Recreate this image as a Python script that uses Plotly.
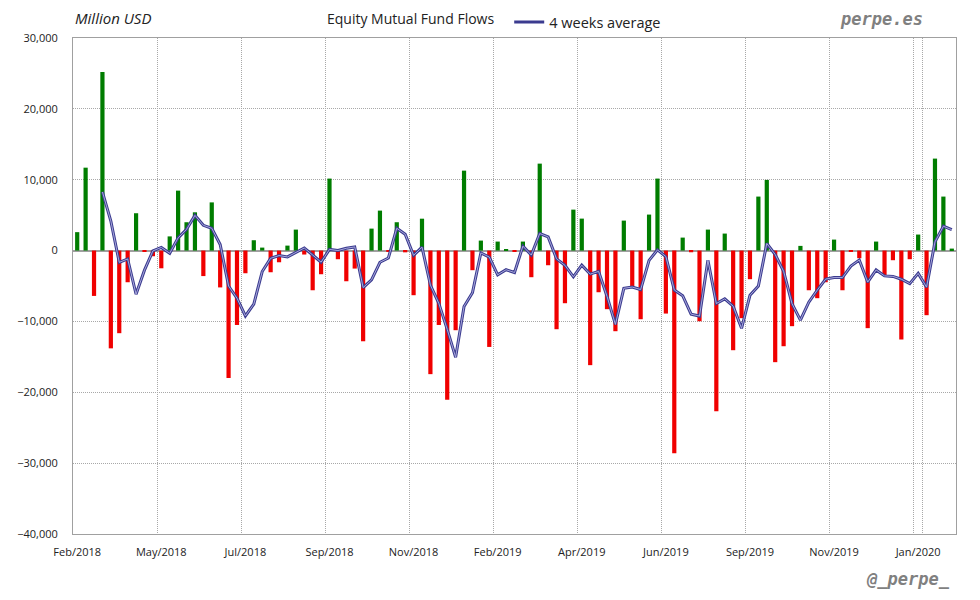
import pandas as pd
import plotly.graph_objects as go

# Weekly equity mutual fund flows (million USD)
flows = [
    2600, 11700, -6400, 25200, -13800, -11660, -4470, 5270, -200, -800,
    -2500, 2000, 8460, 4000, 5400, -3600, 6800, -5200, -18000, -10500,
    -3200, 1460, 420, -3060, -1650, 700, 2960, -560, -5600, -3340,
    10160, -1220, -4330, -2540, -12800, 3100, 5640, -150, 4000, -250,
    -6300, 4500, -17440, -10500, -21060, -11240, 11280, -2770, 1410, -13600,
    1270, 100, -150, 1270, -3760, 12270, -2070, -11100, -7430, 5780,
    4510, -16170, -5880, -8270, -11380, 4230, -5170, -9690, 5080, 10160,
    -8890, -28600, 1830, -240, -9970, 2960, -22660, 2400, -14060, -9540,
    -4040, 7620, 9970, -15750, -13500, -10670, 660, -5600, -6720, -4470,
    1550, -5600, -190, -1080, -10950, 1270, -3530, -1360, -12550, -1220,
    2260, -9120, 12980, 7620, 280,
]

week_start = "2018-02-21"
weeks = [d.strftime("%Y-%m-%d") for d in pd.date_range(week_start, periods=len(flows), freq="7D")]

tick_idx = [0, 10, 20, 30, 40, 50, 60, 70, 80, 90, 100]
tick_labels = ["Feb/2018", "May/2018", "Jul/2018", "Sep/2018", "Nov/2018", "Feb/2019",
               "Apr/2019", "Jun/2019", "Sep/2019", "Nov/2019", "Jan/2020"]

avg4 = pd.Series(flows).rolling(4).mean().tolist()

bar_colors = ["#007d00" if v >= 0 else "#f00000" for v in flows]

FONT = "Open Sans"
GRID_DASH = "1px,1px"

fig = go.Figure()
fig.add_trace(go.Bar(x=weeks, y=flows, marker=dict(color=bar_colors, line=dict(width=0)),
                     showlegend=False, hoverinfo="x+y"))
fig.add_trace(go.Scatter(x=weeks, y=avg4, mode="lines", name="4 weeks average",
                         line=dict(color="#3b3b8f", width=3), showlegend=True))
fig.add_trace(go.Scatter(x=weeks, y=avg4, mode="lines", showlegend=False,
                         line=dict(color="#a8a8dc", width=1), hoverinfo="skip"))

fig.update_layout(
    width=972, height=592,
    margin=dict(l=65, r=24, t=30, b=66, autoexpand=False),
    paper_bgcolor="white", plot_bgcolor="white",
    bargap=0.5,
    font=dict(family=FONT, size=11, color="#222222"),
    showlegend=True,
    legend=dict(orientation="h", x=0.494, y=1.0, xanchor="left", yanchor="bottom",
                font=dict(family=FONT, size=14.5, color="#222222"),
                bgcolor="rgba(0,0,0,0)", itemwidth=30),
    annotations=[
        dict(text="Equity Mutual Fund Flows", xref="paper", yref="paper", x=0.382, y=1.0,
             xanchor="center", yanchor="bottom", yshift=8, showarrow=False,
             font=dict(family=FONT, size=14, color="#222222")),
        dict(text="<i>Million USD</i>", xref="paper", yref="paper", x=0.0, y=1.0,
             xanchor="left", yanchor="bottom", yshift=8, showarrow=False,
             font=dict(family=FONT, size=15, color="#222222")),
        dict(text="<b><i>perpe.es</i></b>", xref="paper", yref="paper", x=0.965, y=1.0,
             xanchor="right", yanchor="bottom", yshift=7, showarrow=False,
             font=dict(family="DejaVu Sans Mono", size=17, color="#808080")),
        dict(text="<b><i>@_perpe_</i></b>", xref="paper", yref="paper", x=0.9955, y=0.0,
             xanchor="right", yanchor="top", yshift=-33, showarrow=False,
             font=dict(family="DejaVu Sans Mono", size=17, color="#808080")),
    ],
)

fig.update_xaxes(
    type="category", tickmode="array", tickvals=[weeks[i] for i in tick_idx], ticktext=tick_labels,
    tickson="boundaries", ticks="", tickangle=0, automargin=False,
    showgrid=True, gridcolor="#a8a8a8", griddash=GRID_DASH, gridwidth=1,
    showline=True, linecolor="#a0a0a0", linewidth=1, mirror=True,
    range=[-0.5, len(flows) - 0.5], tickfont=dict(size=11, color="#222222"), ticklabelstandoff=8,
)
fig.update_yaxes(
    range=[-40000, 30000], dtick=10000, tickformat=",", automargin=False,
    showgrid=True, gridcolor="#a8a8a8",
    griddash=GRID_DASH, gridwidth=1, zeroline=True, zerolinecolor="#a0a0a0", zerolinewidth=2,
    showline=True, linecolor="#a0a0a0", linewidth=1, mirror=True,
    tickfont=dict(size=11, color="#222222"), ticklabelstandoff=12,
)

fig.write_html("out.html")
